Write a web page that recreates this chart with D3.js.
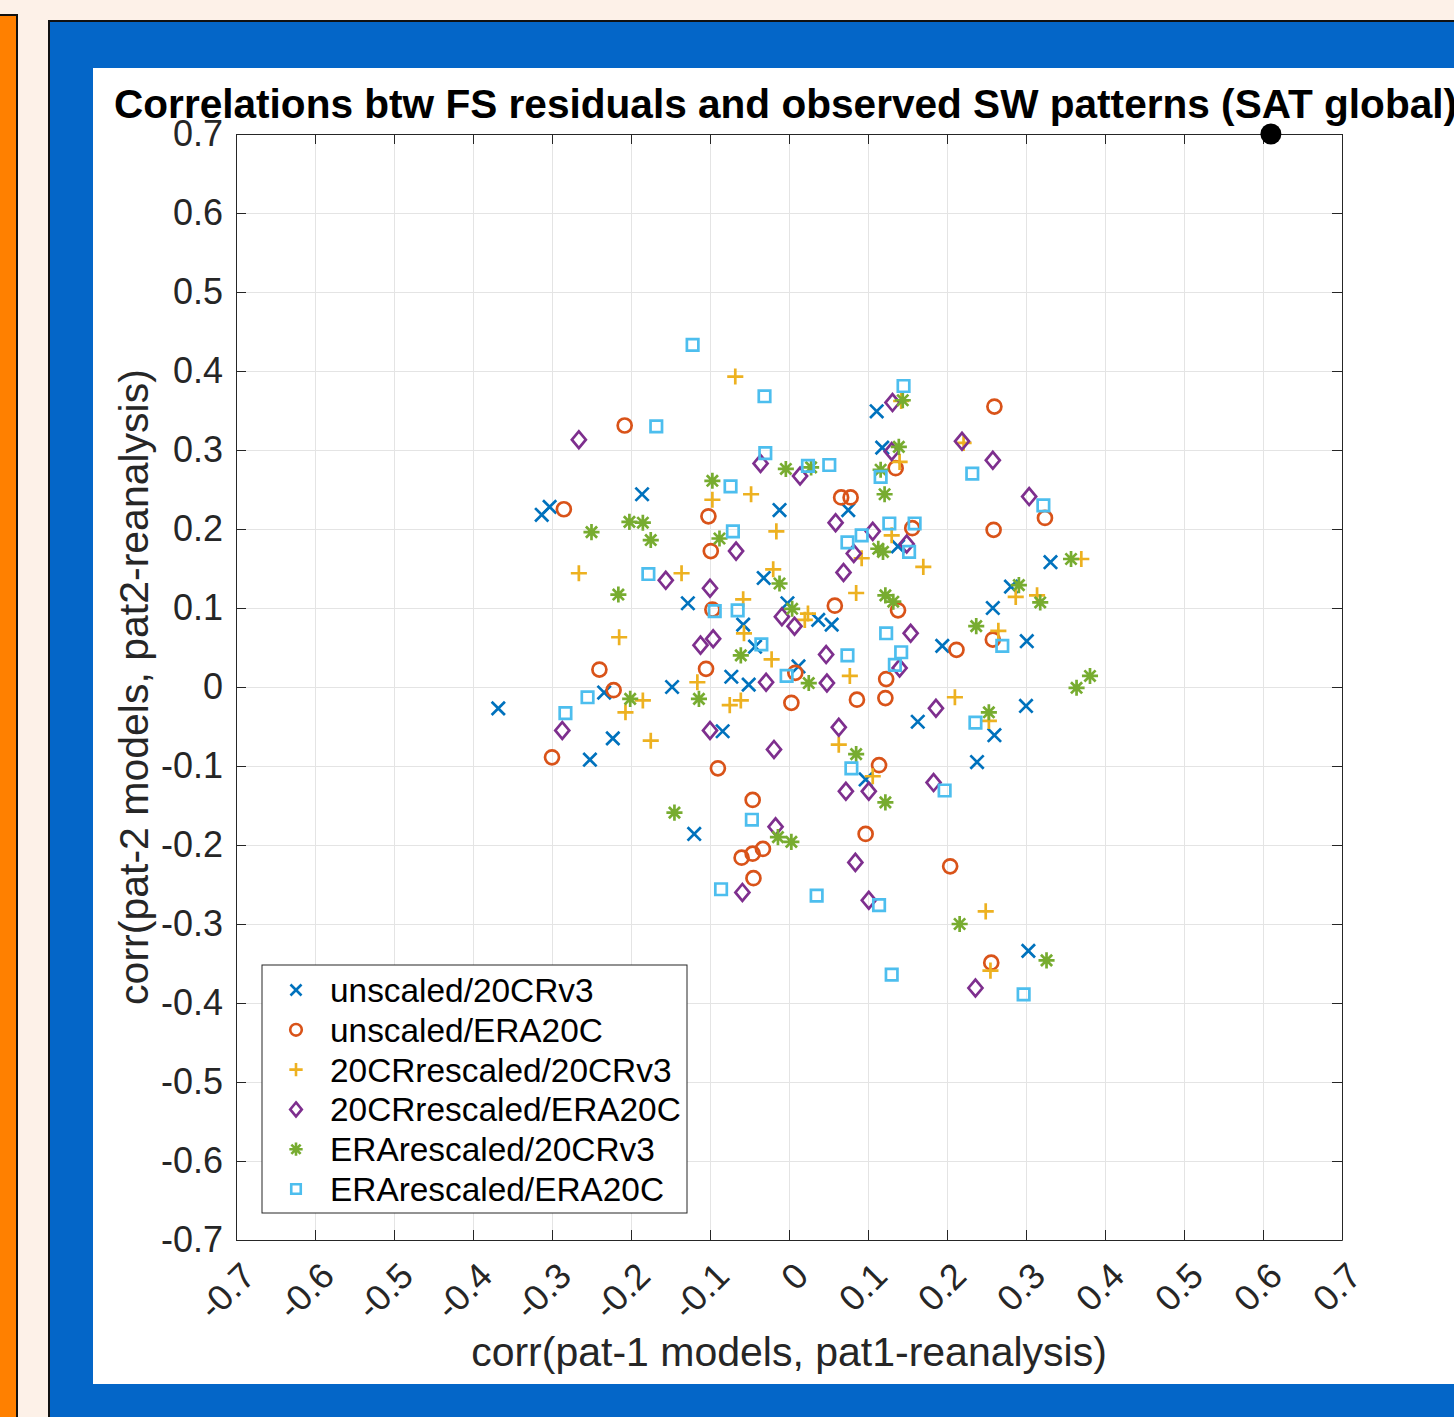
<!DOCTYPE html>
<html>
<head>
<meta charset="utf-8">
<script src="https://cdn.jsdelivr.net/npm/d3@7"></script>
<style>
  body { margin: 0; background: #fdf1e8; }
  svg { display: block; }
  text { font-family: "Liberation Sans", Arial, Helvetica, sans-serif; }
</style>
</head>
<body>
<div id="chart"></div>
<script>
var seriesNames = ["unscaled/20CRv3", "unscaled/ERA20C", "20CRrescaled/20CRv3",
                   "20CRrescaled/ERA20C", "ERArescaled/20CRv3", "ERArescaled/ERA20C"];
var colors = ["#0072BD", "#D95319", "#EDB120", "#7E2F8E", "#77AC30", "#4DBEEE"];
var markers = ["times", "circle", "plus", "diamond", "asterisk", "square"];

// [corr pat-1, corr pat-2]
var unscaled20CRv3 = [[-0.368,-0.027],[-0.313,0.218],[-0.303,0.228],[-0.252,-0.092],[-0.234,-0.007],
  [-0.223,-0.065],[-0.186,0.244],[-0.148,0.000],[-0.128,0.106],[-0.120,-0.186],[-0.084,-0.056],
  [-0.073,0.013],[-0.058,0.079],[-0.051,0.003],[-0.043,0.051],[-0.032,0.138],[-0.012,0.224],
  [-0.002,0.106],[0.012,0.026],[0.037,0.085],[0.054,0.079],[0.075,0.224],[0.097,-0.117],
  [0.111,0.349],[0.118,0.303],[0.138,0.178],[0.163,-0.044],[0.194,0.052],[0.238,-0.095],
  [0.258,0.100],[0.260,-0.061],[0.281,0.127],[0.300,-0.024],[0.301,0.058],[0.303,-0.334],[0.331,0.158]];
var unscaledERA20C = [[-0.300,-0.089],[-0.285,0.225],[-0.240,0.022],[-0.222,-0.004],[-0.208,0.331],
  [-0.105,0.023],[-0.102,0.216],[-0.099,0.172],[-0.097,0.098],[-0.090,-0.103],[-0.060,-0.216],
  [-0.046,-0.211],[-0.033,-0.205],[-0.045,-0.242],[-0.046,-0.143],[0.003,-0.020],[0.008,0.018],
  [0.058,0.103],[0.066,0.240],[0.078,0.240],[0.086,-0.016],[0.097,-0.186],[0.114,-0.099],
  [0.122,-0.014],[0.123,0.010],[0.135,0.277],[0.138,0.097],[0.156,0.201],[0.204,-0.227],
  [0.212,0.047],[0.256,-0.349],[0.258,0.060],[0.259,0.199],[0.260,0.355],[0.324,0.214]];
var rescaled20CR_20CRv3 = [[-0.266,0.144],[-0.215,0.063],[-0.207,-0.032],[-0.185,-0.017],[-0.175,-0.068],
  [-0.136,0.144],[-0.116,0.006],[-0.097,0.237],[-0.075,-0.023],[-0.068,0.393],[-0.061,-0.017],
  [-0.058,0.111],[-0.057,0.068],[-0.048,0.244],[-0.022,0.035],[-0.020,0.149],[-0.016,0.197],
  [0.020,0.085],[0.024,0.093],[0.063,-0.073],[0.077,0.014],[0.085,0.119],[0.092,0.163],
  [0.106,-0.113],[0.130,0.192],[0.140,0.285],[0.142,0.362],[0.170,0.152],[0.210,-0.013],
  [0.221,0.309],[0.249,-0.284],[0.253,-0.043],[0.255,-0.359],[0.265,0.071],[0.287,0.114],
  [0.314,0.116],[0.370,0.162]];
var rescaled20CR_ERA20C = [[-0.287,-0.055],[-0.266,0.313],[-0.156,0.135],[-0.112,0.053],[-0.100,0.125],
  [-0.100,-0.055],[-0.096,0.061],[-0.067,0.172],[-0.059,-0.260],[-0.036,0.283],[-0.029,0.006],
  [-0.019,-0.079],[-0.017,-0.177],[-0.009,0.089],[0.007,0.077],[0.014,0.267],[0.047,0.041],
  [0.048,0.005],[0.059,0.208],[0.063,-0.051],[0.069,0.145],[0.072,-0.132],[0.082,0.169],
  [0.084,-0.222],[0.101,-0.132],[0.101,-0.270],[0.106,0.197],[0.130,0.298],[0.131,0.360],
  [0.140,0.024],[0.149,0.181],[0.154,0.068],[0.183,-0.121],[0.186,-0.027],[0.219,0.311],
  [0.236,-0.381],[0.258,0.287],[0.304,0.241]];
var rescaledERA_20CRv3 = [[-0.250,0.196],[-0.216,0.117],[-0.202,0.209],[-0.201,-0.015],[-0.185,0.208],
  [-0.175,0.186],[-0.145,-0.159],[-0.114,-0.015],[-0.097,0.261],[-0.088,0.188],[-0.061,0.040],
  [-0.014,-0.190],[-0.012,0.131],[-0.004,0.276],[0.003,-0.196],[0.004,0.099],[0.025,0.005],
  [0.028,0.278],[0.085,-0.085],[0.113,0.175],[0.116,0.275],[0.119,0.171],[0.121,0.244],
  [0.122,0.116],[0.122,-0.146],[0.132,0.108],[0.139,0.304],[0.144,0.363],[0.216,-0.300],
  [0.237,0.077],[0.253,-0.032],[0.291,0.129],[0.318,0.107],[0.326,-0.346],[0.357,0.162],
  [0.364,-0.001],[0.381,0.014]];
var rescaledERA_ERA20C = [[-0.283,-0.033],[-0.255,-0.013],[-0.178,0.143],[-0.168,0.330],[-0.122,0.433],
  [-0.094,0.096],[-0.086,-0.256],[-0.074,0.254],[-0.071,0.197],[-0.065,0.097],[-0.047,-0.168],
  [-0.035,0.054],[-0.031,0.368],[-0.030,0.296],[-0.003,0.014],[0.024,0.280],[0.035,-0.264],
  [0.051,0.281],[0.074,0.183],[0.074,0.040],[0.079,-0.103],[0.092,0.192],[0.114,-0.276],
  [0.116,0.266],[0.123,0.068],[0.127,0.207],[0.130,-0.364],[0.134,0.028],[0.142,0.044],
  [0.145,0.381],[0.152,0.171],[0.159,0.207],[0.197,-0.131],[0.232,0.270],[0.236,-0.045],
  [0.270,0.052],[0.297,-0.389],[0.322,0.230]];
var allSeries = [unscaled20CRv3, unscaledERA20C, rescaled20CR_20CRv3,
                 rescaled20CR_ERA20C, rescaledERA_20CRv3, rescaledERA_ERA20C];

var blackDot = [[0.61, 0.70]];

var xTicks = [-0.7,-0.6,-0.5,-0.4,-0.3,-0.2,-0.1,0,0.1,0.2,0.3,0.4,0.5,0.6,0.7];
var yTicks = [-0.7,-0.6,-0.5,-0.4,-0.3,-0.2,-0.1,0,0.1,0.2,0.3,0.4,0.5,0.6,0.7];
var tickLabels = ["-0.7","-0.6","-0.5","-0.4","-0.3","-0.2","-0.1","0",
                  "0.1","0.2","0.3","0.4","0.5","0.6","0.7"];

var width = 1454, height = 1417;
var axisColor = "#262626";

var svg = d3.select("#chart")
  .append("svg")
    .attr("width", width)
    .attr("height", height);

// slide background pieces
svg.append("rect").attr("width", width).attr("height", height).attr("fill", "#fdf1e8");
svg.append("rect")
  .attr("x", -3).attr("y", 15).attr("width", 20).attr("height", height)
  .attr("fill", "#ff8000").attr("stroke", "#111").attr("stroke-width", 2);
svg.append("rect")
  .attr("x", 49).attr("y", 21).attr("width", width).attr("height", height)
  .attr("fill", "#0466c8").attr("stroke", "#111").attr("stroke-width", 2);
svg.append("rect")
  .attr("x", 93).attr("y", 68).attr("width", width).attr("height", 1316)
  .attr("fill", "#fff");

var plotW = 1106, plotH = 1106;
var g = svg.append("g").attr("transform", "translate(236,134)");

var x = d3.scaleLinear().domain([-0.7, 0.7]).range([0, plotW]);
var y = d3.scaleLinear().domain([-0.7, 0.7]).range([plotH, 0]);

//grid
var grid = g.append("g");
grid.append("g")
  .call(d3.axisBottom(x).tickValues(xTicks).tickSize(plotH).tickFormat(""));
grid.append("g")
  .call(d3.axisRight(y).tickValues(yTicks).tickSize(plotW).tickFormat(""));
grid.selectAll(".domain").remove();
grid.selectAll("line").attr("stroke", "#e4e4e4");

//marker shapes, s = half size
function markerPath(type, s) {
  var p = d3.path();
  if (type === "times") {
    var a = s * 0.95;
    p.moveTo(-a, -a); p.lineTo(a, a); p.moveTo(-a, a); p.lineTo(a, -a);
  } else if (type === "circle") {
    p.moveTo(s, 0); p.arc(0, 0, s, 0, 2 * Math.PI);
  } else if (type === "plus") {
    var b = s * 1.15;
    p.moveTo(-b, 0); p.lineTo(b, 0); p.moveTo(0, -b); p.lineTo(0, b);
  } else if (type === "diamond") {
    p.moveTo(0, -s * 1.2); p.lineTo(s, 0); p.lineTo(0, s * 1.2); p.lineTo(-s, 0); p.closePath();
  } else if (type === "asterisk") {
    var c = s * 1.15, d = s * 0.8;
    p.moveTo(-c, 0); p.lineTo(c, 0); p.moveTo(0, -c); p.lineTo(0, c);
    p.moveTo(-d, -d); p.lineTo(d, d); p.moveTo(-d, d); p.lineTo(d, -d);
  } else if (type === "square") {
    var e = s * 0.82;
    p.rect(-e, -e, 2 * e, 2 * e);
  }
  return p.toString();
}

//data
allSeries.forEach(function(data, i) {
  g.append("g")
    .selectAll("path")
    .data(data)
    .enter()
    .append("path")
      .attr("d", markerPath(markers[i], 7))
      .attr("transform", function(d) { return "translate(" + x(d[0]) + "," + y(d[1]) + ")"; })
      .attr("fill", "none")
      .attr("stroke", colors[i])
      .attr("stroke-width", 2.7);
});

//X-axis
var axes = g.append("g").attr("class", "axes");
var xAxis = axes.append("g")
  .attr("transform", "translate(0," + plotH + ")")
  .call(d3.axisBottom(x).tickValues(xTicks).tickSize(-10).tickSizeOuter(0)
    .tickFormat(function(d, i) { return tickLabels[i]; }));
xAxis.selectAll("text")
  .attr("x", null).attr("y", null).attr("dy", null)
  .attr("text-anchor", "end")
  .attr("transform", "translate(21,38) rotate(-45)");
axes.append("g")
  .call(d3.axisTop(x).tickValues(xTicks).tickSize(-10).tickSizeOuter(0).tickFormat(""));

//Y-axis
axes.append("g")
  .call(d3.axisLeft(y).tickValues(yTicks).tickSize(-10).tickSizeOuter(0).tickPadding(13)
    .tickFormat(function(d, i) { return tickLabels[i]; }));
axes.append("g")
  .attr("transform", "translate(" + plotW + ",0)")
  .call(d3.axisRight(y).tickValues(yTicks).tickSize(-10).tickSizeOuter(0).tickFormat(""));

axes.selectAll(".domain, .tick line").attr("stroke", axisColor);
axes.selectAll(".tick text")
  .style("font-size", "36px")
  .style("font-family", "'Liberation Sans', Arial, sans-serif")
  .attr("fill", axisColor);

//titles
svg.append("text")
  .attr("x", 114).attr("y", 118)
  .style("font-size", "40.6px").style("font-weight", "bold")
  .attr("fill", "#000")
  .text("Correlations btw FS residuals and observed SW patterns (SAT global)");

svg.append("text")
  .attr("text-anchor", "middle")
  .attr("x", 236 + plotW / 2).attr("y", 1366)
  .style("font-size", "41px")
  .attr("fill", axisColor)
  .text("corr(pat-1 models, pat1-reanalysis)");

svg.append("text")
  .attr("text-anchor", "middle")
  .attr("transform", "translate(148," + (134 + plotH / 2) + ") rotate(-90)")
  .style("font-size", "41px")
  .attr("fill", axisColor)
  .text("corr(pat-2 models, pat2-reanalysis)");

//legend
var legend = svg.append("g").attr("transform", "translate(262,965)");
legend.append("rect")
  .attr("width", 425).attr("height", 248)
  .attr("fill", "#fff").attr("stroke", axisColor).attr("stroke-width", 1);
var rows = legend.selectAll(".row")
  .data(seriesNames)
  .enter()
  .append("g")
    .attr("transform", function(d, i) { return "translate(0," + (25 + i * 39.8) + ")"; });
rows.append("path")
  .attr("d", function(d, i) { return markerPath(markers[i], 5.8); })
  .attr("transform", "translate(34,0)")
  .attr("fill", "none")
  .attr("stroke", function(d, i) { return colors[i]; })
  .attr("stroke-width", 2.6);
rows.append("text")
  .attr("x", 68)
  .attr("dy", "0.36em")
  .style("font-size", "33.4px")
  .attr("fill", "#000")
  .text(function(d) { return d; });

//marker drawn on the slide
g.selectAll(".dot")
  .data(blackDot)
  .enter()
  .append("circle")
    .attr("cx", function(d) { return x(d[0]); })
    .attr("cy", function(d) { return y(d[1]); })
    .attr("r", 10.5)
    .attr("fill", "#000");
</script>
</body>
</html>
